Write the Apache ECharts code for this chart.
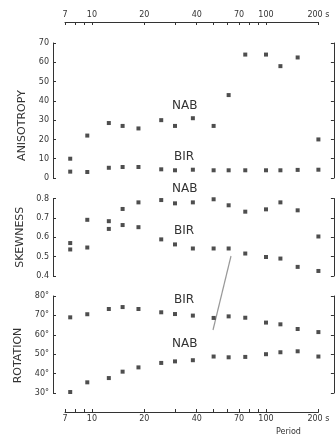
<!DOCTYPE html>
<html>
<head>
<meta charset="utf-8">
<script src="https://cdn.jsdelivr.net/npm/echarts@6/dist/echarts.min.js"></script>
<style>
    html, body { margin: 0; padding: 0; background: #fff; }
    #chart { width: 336px; height: 435px; }
</style>
</head>
<body>
<div id="chart"></div>
<script>
// periods (s)
let periods = [7.5, 9.4, 12.5, 15, 18.5, 25, 30, 38, 50, 61, 76, 100, 121, 152, 200];

// anisotropy
let anisoNAB = [10, 22, 28.5, 27, 25.7, 30, 27, 31, 27, 43, 64, 64, 58, 62.5, 20];
let anisoBIR = [3.3, 3.1, 5.3, 5.7, 5.7, 4.5, 4, 4.3, 4, 4, 4, 4, 4, 4.2, 4.3];

// skewness
let skewNAB = [0.57, 0.69, 0.683, 0.746, 0.78, 0.792, 0.775, 0.78, 0.796, 0.765, 0.732, 0.744, 0.78, 0.739, 0.604];
let skewBIR = [0.537, 0.547, 0.643, 0.663, 0.652, 0.589, 0.563, 0.542, 0.542, 0.542, 0.516, 0.498, 0.49, 0.447, 0.426];

// rotation (deg)
let rotBIR = [69, 70.6, 73.3, 74.3, 73.3, 71.6, 70.7, 69.9, 68.7, 69.5, 68.8, 66.3, 65.4, 63, 61.4];
let rotNAB = [30.5, 35.5, 37.7, 41, 43.2, 45.5, 46.3, 46.9, 48.8, 48.4, 48.6, 50, 51, 51.5, 48.8];

// axis ticks
let tickPeriods = [7, 8, 9, 10, 20, 30, 40, 50, 60, 70, 80, 90, 100, 200];
let labelPeriods = [7, 10, 20, 40, 70, 100, 200];

let ink = '#333';
let font = 'DejaVu Sans';

function pts(vals) {
    return vals.map((v, i) => [Math.log10(periods[i]), v]);
}

function xAxis(grid, pos) {
    let show = pos != null;
    return {
        type: 'value',
        gridIndex: grid,
        position: pos || 'bottom',
        offset: pos == 'top' ? 21 : 19,
        min: Math.log10(7),
        max: Math.log10(200),
        show: show,
        axisLine: { show: true, onZero: false, lineStyle: { color: ink, width: 1, opacity: 1 } },
        axisTick: {
            show: true,
            inside: true,
            length: 3,
            customValues: tickPeriods.map(Math.log10),
            lineStyle: { color: ink, width: 1 }
        },
        axisLabel: {
            show: true,
            customValues: labelPeriods.map(Math.log10),
            formatter: v => {
                let p = Math.round(Math.pow(10, v));
                return p == 200 ? '200 s' : String(p);
            },
            color: ink,
            fontSize: 8,
            fontFamily: font,
            margin: 3
        },
        splitLine: { show: false }
    };
}

function yPair(grid, min, max, interval, fmt, name, pad) {
    let common = {
        type: 'value',
        gridIndex: grid,
        min: min,
        max: max,
        interval: interval,
        axisLine: { show: true, onZero: false, lineStyle: { color: ink, width: 1, opacity: 1 } },
        axisTick: { show: true, inside: true, length: 3, lineStyle: { color: ink, width: 1 } },
        splitLine: { show: false }
    };
    return [
        Object.assign({}, common, {
            position: 'left',
            offset: 12,
            name: name,
            nameLocation: 'middle',
            nameGap: 21,
            nameTextStyle: {
                color: ink,
                fontSize: 11,
                fontFamily: font,
                padding: pad
            },
            axisLabel: {
                color: ink,
                fontSize: 8,
                fontFamily: font,
                margin: 4,
                formatter: fmt
            }
        }),
        Object.assign({}, common, {
            position: 'right',
            offset: 15.5,
            axisLabel: { show: false }
        })
    ];
}

function scatter(name, grid, vals) {
    return {
        name: name,
        type: 'scatter',
        xAxisIndex: grid,
        yAxisIndex: grid * 2,
        symbol: 'rect',
        symbolSize: 4,
        itemStyle: { color: '#222' },
        data: pts(vals)
    };
}

function label(text, x, y) {
    return {
        type: 'text',
        left: x,
        top: y,
        style: { text: text, fill: ink, font: '12px "DejaVu Sans"' }
    };
}

let chart = echarts.init(document.getElementById('chart'));

let option = {
    backgroundColor: '#fff',
    animation: false,
    grid: [
        { left: 65, right: 17.6, top: 43, height: 135 },
        { left: 65, right: 17.6, top: 198.5, height: 77.5 },
        { left: 65, right: 17.6, top: 296, height: 97 }
    ],
    xAxis: [
        xAxis(0, 'top'),
        xAxis(1, null),
        xAxis(2, 'bottom')
    ],
    yAxis: [].concat(
        yPair(0, 0, 70, 10, v => String(v), 'ANISOTROPY', [0, 30, 0, 0]),
        yPair(1, 0.4, 0.8, 0.1, v => v.toFixed(1), 'SKEWNESS', [0, 0, 0, 0]),
        yPair(2, 30, 80, 10, v => v + '°', 'ROTATION', [0, 22, 0, 0])
    ),
    series: [
        scatter('NAB', 0, anisoNAB),
        scatter('BIR', 0, anisoBIR),
        scatter('NAB', 1, skewNAB),
        scatter('BIR', 1, skewBIR),
        scatter('BIR', 2, rotBIR),
        scatter('NAB', 2, rotNAB)
    ],
    graphic: [
        label('NAB', 172, 100),
        label('BIR', 174, 151),
        label('NAB', 172, 183),
        label('BIR', 174, 225),
        label('BIR', 174, 294),
        label('NAB', 172, 338),
        {
            type: 'text',
            left: 276,
            top: 428,
            style: { text: 'Period', fill: ink, font: '8px "DejaVu Sans"' }
        },
        // pencil stroke on the scan
        {
            type: 'line',
            shape: { x1: 231, y1: 256, x2: 213, y2: 330 },
            style: { stroke: '#999', lineWidth: 1.2 }
        }
    ]
};

chart.setOption(option);
</script>
</body>
</html>
